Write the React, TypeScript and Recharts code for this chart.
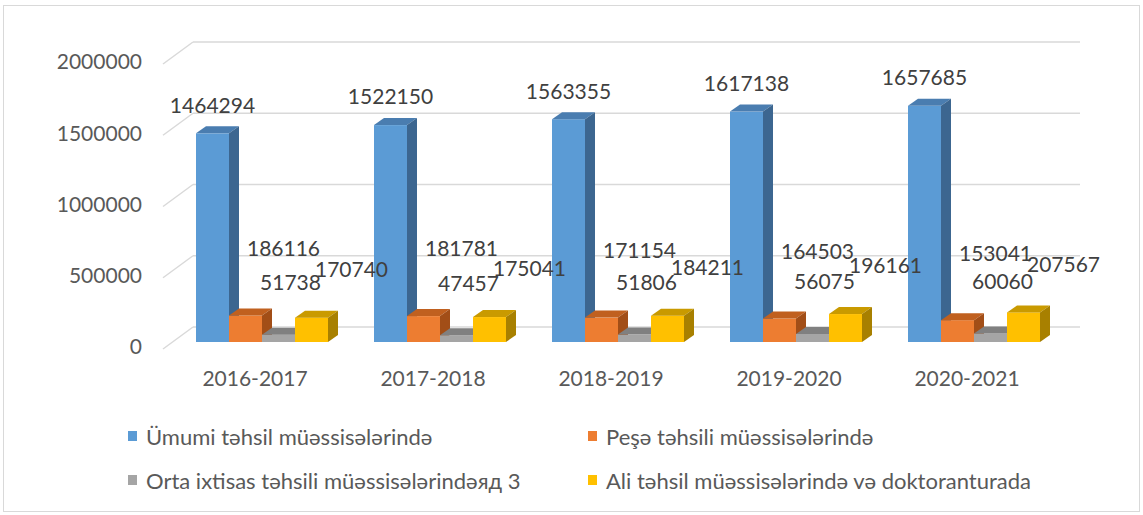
import React from 'react';
import { BarChart, Bar, XAxis, YAxis, CartesianGrid, LabelList } from 'recharts';

const years = ['2016-2017', '2017-2018', '2018-2019', '2019-2020', '2020-2021'];
const umumi = [1464294, 1522150, 1563355, 1617138, 1657685];
const pese = [186116, 181781, 171154, 164503, 153041];
const orta = [51738, 47457, 51806, 56075, 60060];
const ali = [170740, 175041, 184211, 196161, 207567];
const seriesNames = [
  'Ümumi təhsil müəssisələrində',
  'Peşə təhsili müəssisələrində',
  'Orta ixtisas təhsili müəssisələrindəяд 3',
  'Ali təhsil müəssisələrində və doktoranturada',
];
const yTicks = [0, 500000, 1000000, 1500000, 2000000];

const data = years.map((y, i) => ({
  name: y,
  umumi: umumi[i],
  pese: pese[i],
  orta: orta[i],
  ali: ali[i],
}));

const FONT = 'Lato, "Liberation Sans", sans-serif';
const DX = 10; // 3d depth
const DY = 7;

// front / top / side colours per series
const palette = [
  { front: '#5B9BD5', top: '#4A7DB0', side: '#3C6690' },
  { front: '#ED7D31', top: '#C0601F', side: '#A24E17' },
  { front: '#A5A5A5', top: '#808080', side: '#6B6B6B' },
  { front: '#FFC000', top: '#C99A00', side: '#A88000' },
];

const make3dShape = (c: { front: string; top: string; side: string }) => (props: any) => {
  const { x, y, width: w, height: h } = props;
  if (w == null || h == null) return null;
  return (
    <g>
      <rect x={x} y={y} width={w} height={h} fill={c.front} />
      <polygon points={`${x},${y} ${x + DX},${y - DY} ${x + w + DX},${y - DY} ${x + w},${y}`} fill={c.top} />
      <polygon points={`${x + w},${y} ${x + w + DX},${y - DY} ${x + w + DX},${y + h - DY} ${x + w},${y + h}`} fill={c.side} />
    </g>
  );
};

// label placement relative to the bar's front top
const labelOffsets = [
  { ox: 0, oy: 26 },
  { ox: 38, oy: 65 },
  { ox: 12, oy: 50 },
  { ox: 40, oy: 46 },
];

const makeLabel = (o: { ox: number; oy: number }) => (props: any) => {
  const { x, y, width, value } = props;
  return (
    <text x={x + width / 2 + o.ox} y={y - o.oy} textAnchor="middle" dominantBaseline="middle"
      fill="#404040" fontSize={21} fontFamily={FONT}>
      {value}
    </text>
  );
};

// back-wall gridline with the side-wall diagonal
const gridLine = (props: any) => {
  const { x1, x2, y1, key } = props;
  return (
    <g key={key}>
      <line x1={x1 - 9} y1={y1 + 7} x2={x1 + 21} y2={y1 - 15} stroke="#D9D9D9" strokeWidth={1.5} />
      <line x1={x1 + 21} y1={y1 - 15} x2={x2 + 18} y2={y1 - 15} stroke="#D9D9D9" strokeWidth={1.5} />
    </g>
  );
};

const XTick = (props: any) => {
  const { x, y, payload } = props;
  return (
    <text x={x - 6} y={y + 39} textAnchor="middle" dominantBaseline="middle" fill="#595959" fontSize={21} fontFamily={FONT}>
      {payload.value}
    </text>
  );
};

const YTick = (props: any) => {
  const { x, y, payload } = props;
  return (
    <text x={x} y={y + 7} textAnchor="end" dominantBaseline="middle" fill="#595959" fontSize={21} fontFamily={FONT}>
      {payload.value}
    </text>
  );
};

const keys = ['umumi', 'pese', 'orta', 'ali'];

export default function App() {
  return (
    <div style={{ position: 'absolute', left: 0, top: 0, width: 1143, height: 515, background: '#fff' }}>
      <div style={{ position: 'absolute', left: 3, top: 5, width: 1135, height: 505, border: '1px solid #D9D9D9' }} />
      <div style={{ position: 'absolute', left: 0, top: 0 }}>
        <BarChart width={1143} height={515} data={data} barGap={0} barCategoryGap={24}
          margin={{ top: 57, right: 81, bottom: 133, left: 112 }}>
          <CartesianGrid vertical={false} horizontal={gridLine} />
          <XAxis dataKey="name" axisLine={false} tickLine={false} tickSize={0} tickMargin={0} height={40} tick={<XTick />} />
          <YAxis domain={[0, 2000000]} ticks={yTicks} axisLine={false} tickLine={false} tickSize={0} tickMargin={30}
            width={60} tick={<YTick />} />
          {keys.map((k, i) => (
            <Bar key={k} dataKey={k} name={seriesNames[i]} fill={palette[i].front} isAnimationActive={false}
              shape={make3dShape(palette[i])}>
              <LabelList dataKey={k} content={makeLabel(labelOffsets[i])} />
            </Bar>
          ))}
        </BarChart>
      </div>
      <div style={{ position: 'absolute', left: 128, top: 425, display: 'grid', gridTemplateColumns: '460px 480px',
        rowGap: 22, fontFamily: FONT, fontSize: 22, color: '#595959' }}>
        {seriesNames.map((n, i) => (
          <div key={n} style={{ display: 'flex', alignItems: 'center', height: 22, whiteSpace: 'nowrap' }}>
            <span style={{ width: 9, height: 10, background: palette[i].front, marginRight: 9, display: 'inline-block' }} />
            <span>{n}</span>
          </div>
        ))}
      </div>
    </div>
  );
}
